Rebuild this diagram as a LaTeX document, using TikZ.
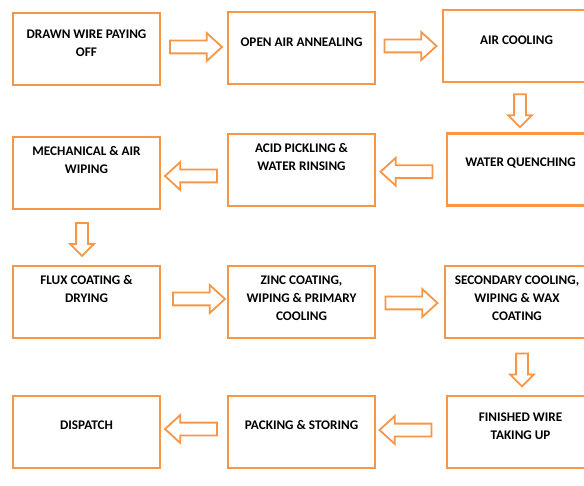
\documentclass[tikz,border=0pt]{standalone}
\usepackage{fontspec}
\setmainfont{Carlito}[BoldFont=Carlito Bold]
\usetikzlibrary{shapes.arrows, positioning, calc}

\definecolor{stageorange}{HTML}{F79646}

\tikzset{
  stage/.style={draw=stageorange, line width=2.6pt, minimum width=147pt,
                minimum height=72pt, inner sep=0pt},
  stagetext/.style={font=\bfseries\fontsize{13.2}{18}\selectfont,
                    align=center, inner sep=0pt},
  flow/.style={single arrow, draw=stageorange, line width=1.8pt, fill=white,
               inner xsep=0pt, inner ysep=5.5pt,
               single arrow head extend=7.5pt, single arrow tip angle=85,
               minimum height=52pt},
  flowdown/.style={flow, rotate=-90, inner ysep=5pt,
                   single arrow head extend=6pt, single arrow tip angle=90,
                   minimum height=33pt}
}

\begin{document}
\begin{tikzpicture}[x=1pt, y=-1pt]

    \useasboundingbox (0,0) rectangle (584,486);
    \clip (0,0) rectangle (584,486);

    % The stages
    \node[stage] (drawn)     at (86.5,49)   {};
    \node[stage] (anneal)    at (301.5,48)  {};
    \node[stage] (aircool)   at (516.5,46)  {};
    \node[stage] (mechwipe)  at (86.5,173)  {};
    \node[stage] (pickle)    at (301.5,170) {};
    \node[stage] (quench)    at (520.5,169.5) {};
    \node[stage] (flux)      at (86.5,302)  {};
    \node[stage] (zinc)      at (301.5,302) {};
    \node[stage] (secondary) at (518.5,302) {};
    \node[stage] (dispatch)  at (86.5,432)  {};
    \node[stage] (packing)   at (301.5,432) {};
    \node[stage] (takeup)    at (520.5,432) {};

    % Their texts
    \node[stagetext] (drawntxt)     at ([yshift=6pt]drawn.center)      {DRAWN WIRE PAYING\\OFF};
    \node[stagetext] (annealtxt)    at ([yshift=6pt]anneal.center)     {OPEN AIR ANNEALING};
    \node[stagetext] (aircooltxt)   at ([yshift=6pt]aircool.center)    {AIR COOLING};
    \node[stagetext] (mechwipetxt)  at ([yshift=13pt]mechwipe.center)  {MECHANICAL \& AIR\\WIPING};
    \node[stagetext] (pickletxt)    at ([yshift=13pt]pickle.center)    {ACID PICKLING \&\\WATER RINSING};
    \node[stagetext] (quenchtxt)    at ([yshift=6.5pt]quench.center)   {WATER QUENCHING};
    \node[stagetext] (fluxtxt)      at ([yshift=13pt]flux.center)      {FLUX COATING \&\\DRYING};
    \node[stagetext] (zinctxt)      at ([yshift=4pt]zinc.center)       {ZINC COATING,\\WIPING \& PRIMARY\\COOLING};
    \node[stagetext] (secondarytxt) at ([xshift=-1.5pt,yshift=4pt]secondary.center) {SECONDARY COOLING,\\WIPING \& WAX\\COATING};
    \node[stagetext] (dispatchtxt)  at ([yshift=7pt]dispatch.center)   {DISPATCH};
    \node[stagetext] (packingtxt)   at ([yshift=7pt]packing.center)    {PACKING \& STORING};
    \node[stagetext] (takeuptxt)    at ([yshift=6pt]takeup.center)     {FINISHED WIRE\\TAKING UP};

    % Block arrows between the stages
    \node[flow]             (a1)  at ($(drawn.east)!0.5!(anneal.west)+(-1.5,-1.5)$) {};
    \node[flow]             (a2)  at ($(anneal.east)!0.5!(aircool.west)+(-2,-1)$) {};
    \node[flowdown]         (a3)  at ($(aircool.south)!0.5!(quench.north)+(1.5,0)$) {};
    \node[flow, rotate=180] (a4)  at ($(quench.west)!0.5!(pickle.east)+(-1,2)$) {};
    \node[flow, rotate=180] (a5)  at ($(pickle.west)!0.5!(mechwipe.east)+(0.5,4.5)$) {};
    \node[flowdown]         (a6)  at ($(mechwipe.south)!0.5!(flux.north)+(-4.5,-1)$) {};
    \node[flow]             (a7)  at ($(flux.east)!0.5!(zinc.west)+(1.5,-3)$) {};
    \node[flow]             (a8)  at ($(zinc.east)!0.5!(secondary.west)+(-2,1)$) {};
    \node[flowdown]         (a9)  at ($(secondary.south)!0.5!(takeup.north)+(2.5,0)$) {};
    \node[flow, rotate=180] (a10) at ($(takeup.west)!0.5!(packing.east)+(-2,-2)$) {};
    \node[flow, rotate=180] (a11) at ($(packing.west)!0.5!(dispatch.east)+(0.5,-3)$) {};

\end{tikzpicture}
\end{document}
